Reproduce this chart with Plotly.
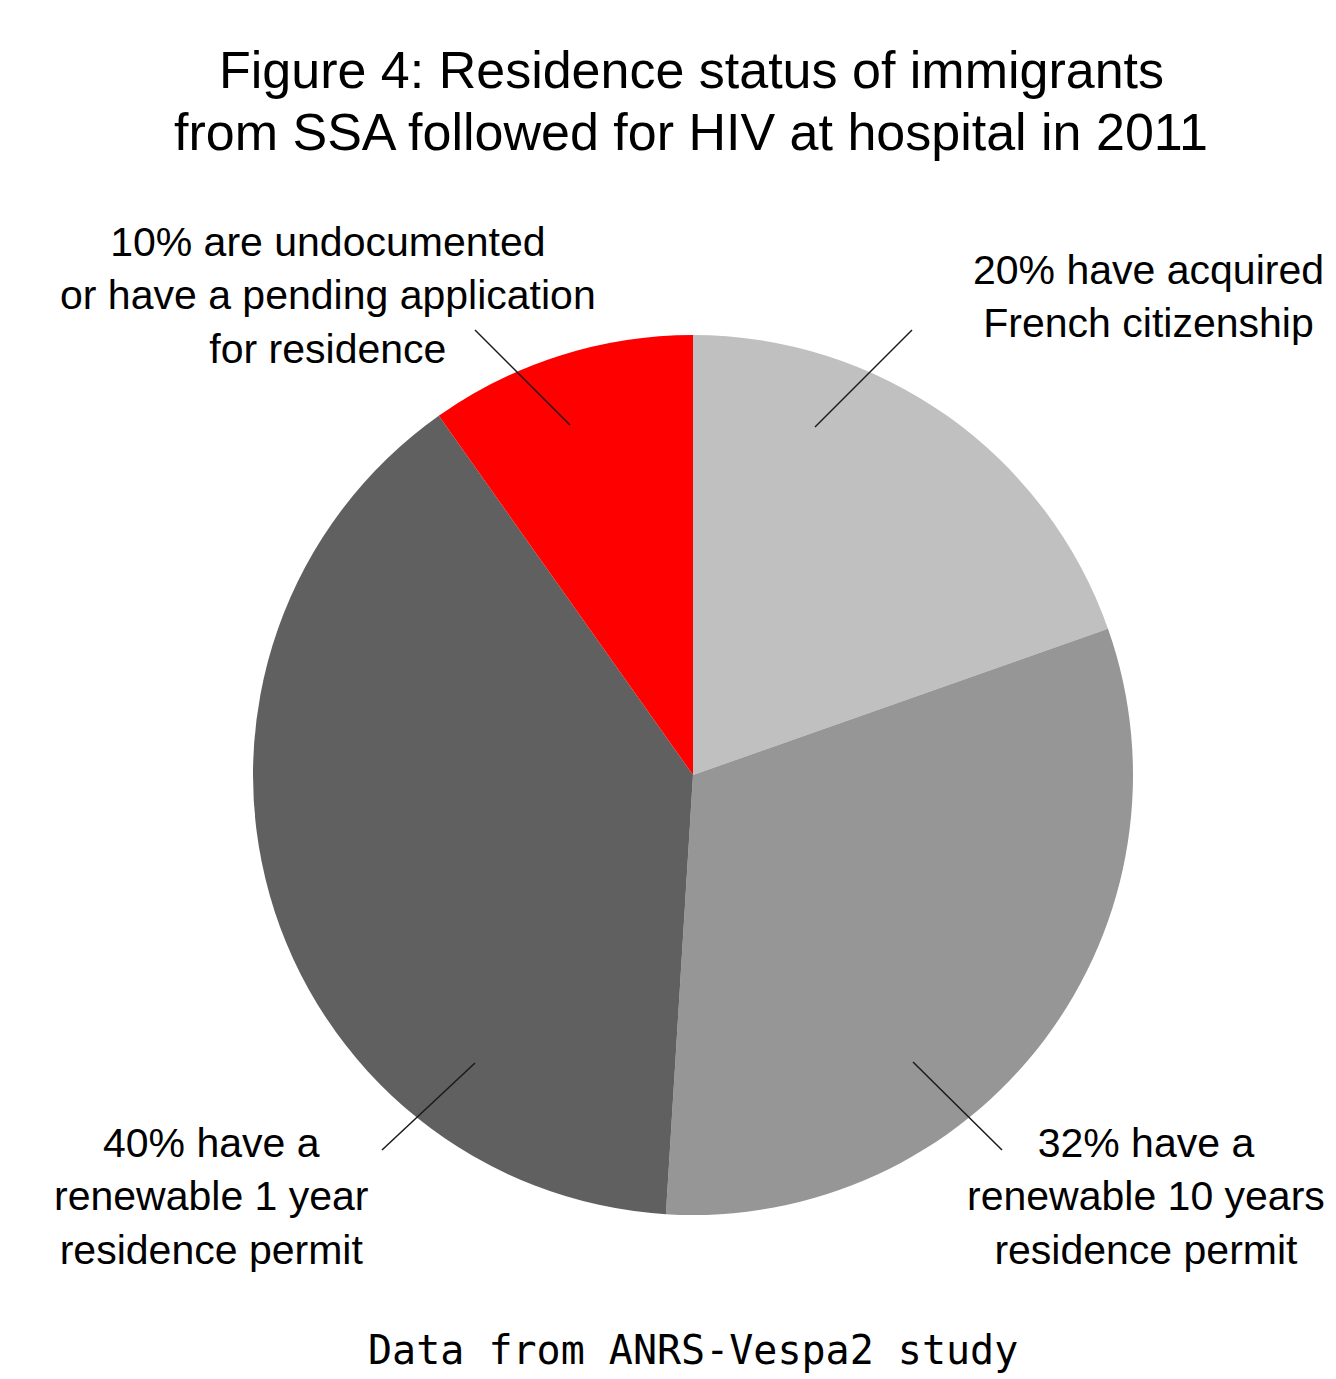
import plotly.graph_objects as go

# Residence status shares (clockwise from 12 o'clock)
categories = [
    "Acquired French citizenship",
    "Renewable 10 years residence permit",
    "Renewable 1 year residence permit",
    "Undocumented or pending application",
]
shares = [20, 32, 40, 10]
colors = ["#c0c0c0", "#969696", "#606060", "#ff0000"]

label_texts = [
    "20% have acquired<br>French citizenship",
    "32% have a<br>renewable 10 years<br>residence permit",
    "40% have a<br>renewable 1 year<br>residence permit",
    "10% are undocumented<br>or have a pending application<br>for residence",
]

title_lines = [
    "Figure 4: Residence status of immigrants",
    "from SSA followed for HIV at hospital in 2011",
]
caption = "Data from ANRS-Vespa2 study"

W, H = 1336, 1379


def px(x):
    return x / W


def py(y):
    return 1 - y / H


fig = go.Figure(
    go.Pie(
        labels=categories,
        values=shares,
        marker=dict(colors=colors, line=dict(width=0)),
        sort=False,
        direction="clockwise",
        rotation=0,
        textinfo="none",
        hoverinfo="label+percent",
        showlegend=False,
        domain=dict(x=[px(253), px(1133)], y=[py(1215), py(335)]),
    )
)

label_font = dict(family="Liberation Sans, Arial, sans-serif", size=41, color="#000000")

# Label placement (paper coordinates) and leader lines
label_pos = [(1148, 296), (1146, 1196), (211, 1196), (328, 295)]
leaders = [
    ((912, 330), (815, 427)),
    ((913, 1062), (1002, 1150)),
    ((475, 1063), (382, 1150)),
    ((475, 330), (570, 425)),
]

annotations = []
for text, (x, y) in zip(label_texts, label_pos):
    annotations.append(
        dict(
            text=text, x=px(x), y=py(y), xref="paper", yref="paper",
            xanchor="center", yanchor="middle", align="center",
            showarrow=False, font=label_font,
        )
    )

title_font = dict(family="Liberation Sans, Arial, sans-serif", size=52, color="#000000")
for line, y in zip(title_lines, [70, 132]):
    annotations.append(
        dict(
            text=line, x=px(691), y=py(y), xref="paper", yref="paper",
            xanchor="center", yanchor="middle", showarrow=False, font=title_font,
        )
    )

annotations.append(
    dict(
        text=caption, x=px(693), y=py(1350), xref="paper", yref="paper",
        xanchor="center", yanchor="middle", showarrow=False,
        font=dict(family="DejaVu Sans Mono, monospace", size=40, color="#000000"),
    )
)

shapes = []
for (x0, y0), (x1, y1) in leaders:
    shapes.append(
        dict(
            type="line", xref="paper", yref="paper",
            x0=px(x0), y0=py(y0), x1=px(x1), y1=py(y1),
            line=dict(color="#1a1a1a", width=1.5),
        )
    )

fig.update_layout(
    width=W,
    height=H,
    margin=dict(l=0, r=0, t=0, b=0),
    paper_bgcolor="#ffffff",
    plot_bgcolor="#ffffff",
    annotations=annotations,
    shapes=shapes,
)

fig.write_html("out.html")
